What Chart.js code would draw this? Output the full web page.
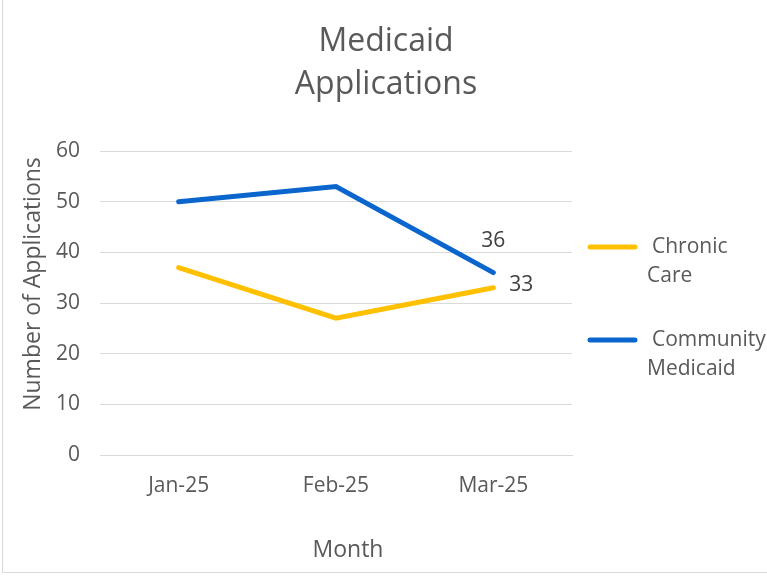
<!DOCTYPE html>
<html>
<head>
<meta charset="utf-8">
<script src="https://cdn.jsdelivr.net/npm/chart.js@4/dist/chart.umd.min.js"></script>
<style>
  html, body { margin: 0; padding: 0; background: #fff; }
  #wrap { position: relative; width: 767px; height: 579px; }
  #frame { position: absolute; left: 2px; top: -2px; width: 780px; height: 575px; border: 1px solid #d9d9d9; box-sizing: border-box; }
  canvas { position: absolute; left: 0; top: 0; }
</style>
</head>
<body>
<div id="wrap">
  <div id="frame"></div>
  <canvas id="chart-medicaid" width="767" height="579"></canvas>
</div>
<script>
// Medicaid applications line chart

let months = ['Jan-25', 'Feb-25', 'Mar-25']
let chronicCare = [37, 27, 33]
let communityMedicaid = [50, 53, 36]
let seriesNames = [['Chronic', 'Care'], ['Community', 'Medicaid']]
let yTicks = [0, 10, 20, 30, 40, 50, 60]
let titleLines = ['Medicaid', 'Applications']
let yTitle = 'Number of Applications'
let xTitle = 'Month'

let textColor = '#595959'
let fontFamily = "'Open Sans', 'Noto Sans', sans-serif"

// title + axis titles drawn by hand so they sit where the original has them
let chartText = {
	id: 'chartText',
	afterDraw(chart) {
		let ctx = chart.ctx
		ctx.save()
		ctx.fillStyle = textColor
		ctx.textAlign = 'center'
		ctx.textBaseline = 'middle'
		ctx.font = '32px ' + fontFamily
		titleLines.forEach((t, i) => ctx.fillText(t, 386, 42 + i * 43))
		ctx.font = '23px ' + fontFamily
		ctx.fillText(xTitle, 348, 550)
		ctx.translate(33, 284)
		ctx.rotate(-Math.PI / 2)
		ctx.fillText(yTitle, 0, 0)
		ctx.restore()
	}
}

// legend on the right, wrapped text like the original
let sideLegend = {
	id: 'sideLegend',
	afterDraw(chart) {
		let ctx = chart.ctx
		let area = chart.chartArea
		ctx.save()
		ctx.font = '21px ' + fontFamily
		ctx.fillStyle = textColor
		ctx.textBaseline = 'middle'
		let rows = [247, 340]
		chart.data.datasets.forEach((ds, i) => {
			let y = rows[i]
			ctx.strokeStyle = ds.borderColor
			ctx.lineWidth = 5
			ctx.lineCap = 'round'
			ctx.beginPath()
			ctx.moveTo(area.right + 18, y)
			ctx.lineTo(area.right + 63, y)
			ctx.stroke()
			ds.legendText.forEach((t, k) => {
				ctx.fillText(t, area.right + (k == 0 ? 80 : 75), y + k * 29)
			})
		})
		ctx.restore()
	}
}

// value labels on the last point only
let lastLabels = {
	id: 'lastLabels',
	afterDatasetsDraw(chart) {
		let ctx = chart.ctx
		ctx.save()
		ctx.font = '21px ' + fontFamily
		ctx.fillStyle = '#404040'
		ctx.textAlign = 'center'
		ctx.textBaseline = 'middle'
		chart.data.datasets.forEach((ds, i) => {
			let meta = chart.getDatasetMeta(i)
			let n = ds.data.length - 1
			let pt = meta.data[n]
			if (i == 1) ctx.fillText(String(ds.data[n]), pt.x, pt.y - 32)
			else ctx.fillText(String(ds.data[n]), pt.x + 28, pt.y - 3)
		})
		ctx.restore()
	}
}

let data = {
	labels: months,
	datasets: [
		{
			label: 'Chronic Care',
			legendText: seriesNames[0],
			data: chronicCare,
			borderColor: '#FFC000',
			backgroundColor: '#FFC000',
			borderWidth: 5,
			borderCapStyle: 'round',
			pointRadius: 0,
			tension: 0,
		},
		{
			label: 'Community Medicaid',
			legendText: seriesNames[1],
			data: communityMedicaid,
			borderColor: '#0A66CC',
			backgroundColor: '#0A66CC',
			borderWidth: 5,
			borderCapStyle: 'round',
			pointRadius: 0,
			tension: 0,
		}
	]
}

let chart = new Chart(document.getElementById('chart-medicaid'), {
	type: 'line',
	data,
	options: {
		responsive: false,
		animation: false,
		layout: { padding: { left: 0, right: 195, top: 151, bottom: 0 } },
		plugins: {
			legend: { display: false },
			tooltip: { enabled: false },
			title: { display: false },
		},
		scales: {
			x: {
				offset: true,
				grid: { display: false },
				border: { display: true, color: '#d9d9d9', width: 1 },
				ticks: { color: textColor, font: { family: fontFamily, size: 21 }, padding: 10 },
				afterFit(scale) { scale.height = 124 },
			},
			y: {
				min: 0,
				max: 60,
				afterBuildTicks(scale) { scale.ticks = yTicks.map(v => ({ value: v })) },
				grid: { color: '#d9d9d9', lineWidth: 1, drawTicks: false },
				border: { display: false },
				ticks: { color: textColor, font: { family: fontFamily, size: 21 }, padding: 20 },
				afterFit(scale) { scale.width = 100 },
			}
		}
	},
	plugins: [sideLegend, lastLabels, chartText]
})
</script>
</body>
</html>
